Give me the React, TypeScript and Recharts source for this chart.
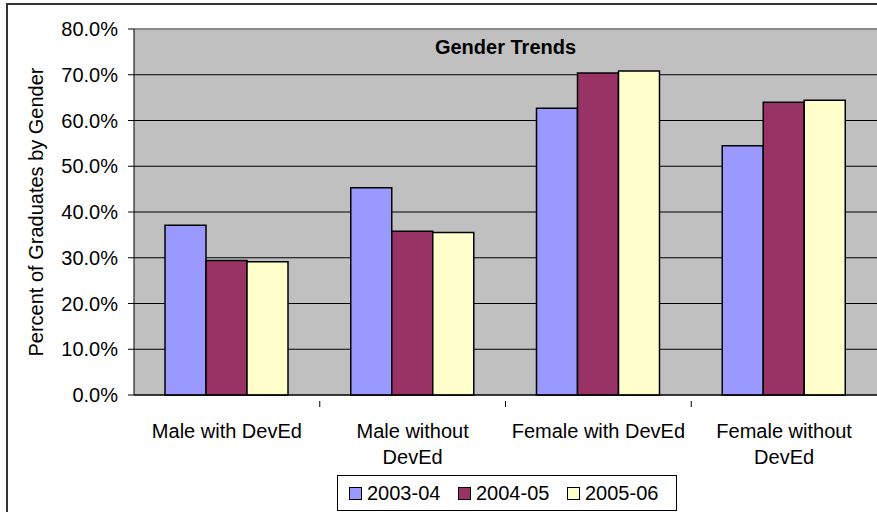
import { BarChart, Bar, XAxis, YAxis, CartesianGrid, Legend, ReferenceLine, Label } from "recharts";

const categories = ["Male with DevEd", "Male without\nDevEd", "Female with DevEd", "Female without\nDevEd"];
const series2003 = [37.1, 45.3, 62.7, 54.5];
const series2004 = [29.4, 35.8, 70.4, 64.0];
const series2005 = [29.1, 35.5, 70.8, 64.4];
const yTicks = [0, 10, 20, 30, 40, 50, 60, 70, 80];

const SERIES = [
  { key: "y2003", name: "2003-04", color: "#9999FF" },
  { key: "y2004", name: "2004-05", color: "#993366" },
  { key: "y2005", name: "2005-06", color: "#FFFFCC" },
];

const data = categories.map((name, i) => ({
  name,
  y2003: series2003[i],
  y2004: series2004[i],
  y2005: series2005[i],
}));

const FONT = "'Liberation Sans', Arial, sans-serif";
const BAND = (877 - 134) / categories.length;

function CategoryTick(props: any) {
  const { x, y, payload, index } = props;
  const lines = String(payload.value).split("\n");
  return (
    <g>
      {index > 0 && <line x1={x - BAND / 2} x2={x - BAND / 2} y1={y - 2} y2={y + 4} stroke="#000" />}
      <text x={x} y={y} textAnchor="middle" fill="#000" fontSize={20} fontFamily={FONT}>
        {lines.map((l, i) => (
          <tspan key={i} x={x} dy={i === 0 ? 35 : 26}>
            {l}
          </tspan>
        ))}
      </text>
    </g>
  );
}

function LegendBox() {
  return (
    <div
      style={{
        boxSizing: "border-box",
        width: 340,
        height: 36,
        border: "1px solid #000",
        background: "#fff",
        display: "flex",
        alignItems: "center",
        paddingLeft: 11,
        fontFamily: FONT,
        fontSize: 20,
        color: "#000",
      }}
    >
      {SERIES.map((s) => (
        <div key={s.key} style={{ display: "flex", alignItems: "center", width: 113 }}>
          <span
            style={{
              display: "inline-block",
              boxSizing: "border-box",
              width: 13,
              height: 13,
              border: "1px solid #000",
              background: s.color,
              marginRight: 5,
            }}
          />
          <span>{s.name}</span>
        </div>
      ))}
    </div>
  );
}

export default function App() {
  return (
    <div style={{ position: "absolute", left: 0, top: 0, width: 877, height: 512, overflow: "hidden", background: "#fff" }}>
      <div
        style={{
          position: "absolute",
          left: 6,
          top: 3,
          width: 1000,
          height: 1000,
          border: "2px solid #333",
          boxSizing: "border-box",
        }}
      />
      <div style={{ position: "absolute", left: 0, top: 0 }}>
        <BarChart
          width={877}
          height={512}
          data={data}
          margin={{ top: 29, right: 0, bottom: 0, left: 0 }}
          barCategoryGap={31}
          barGap={0}
        >
          <CartesianGrid vertical={false} stroke="#000" fill="#C0C0C0" fillOpacity={1} />
          <ReferenceLine y={80} stroke="#8a8a8a" strokeWidth={2} />
          <XAxis
            dataKey="name"
            axisLine={{ stroke: "#000" }}
            tickLine={false}
            tick={<CategoryTick />}
            interval={0}
            height={117}
          />
          <YAxis
            width={134}
            domain={[0, 80]}
            ticks={yTicks}
            tickFormatter={(v: number) => `${v.toFixed(1)}%`}
            axisLine={{ stroke: "#000" }}
            tickLine={{ stroke: "#000" }}
            tickSize={6}
            tickMargin={10}
            tick={{ fill: "#000", fontSize: 20, fontFamily: FONT }}
            interval={0}
          >
            <Label
              value="Percent of Graduates by Gender"
              angle={-90}
              position="insideLeft"
              offset={36}
              style={{ textAnchor: "middle", fill: "#000", fontSize: 20, fontFamily: FONT }}
            />
          </YAxis>
          <Legend
            layout="horizontal"
            verticalAlign="middle"
            content={() => <LegendBox />}
            wrapperStyle={{ position: "absolute", left: 337, top: 475, width: 340, height: 36 }}
          />
          {SERIES.map((s) => (
            <Bar
              key={s.key}
              dataKey={s.key}
              name={s.name}
              fill={s.color}
              stroke="#000"
              strokeWidth={1.5}
              isAnimationActive={false}
            />
          ))}
        </BarChart>
      </div>
      <div
        style={{
          position: "absolute",
          left: 134,
          width: 743,
          top: 35,
          textAlign: "center",
          fontFamily: FONT,
          fontWeight: "bold",
          fontSize: 20,
          lineHeight: "24px",
          color: "#000",
        }}
      >
        Gender Trends
      </div>
    </div>
  );
}
